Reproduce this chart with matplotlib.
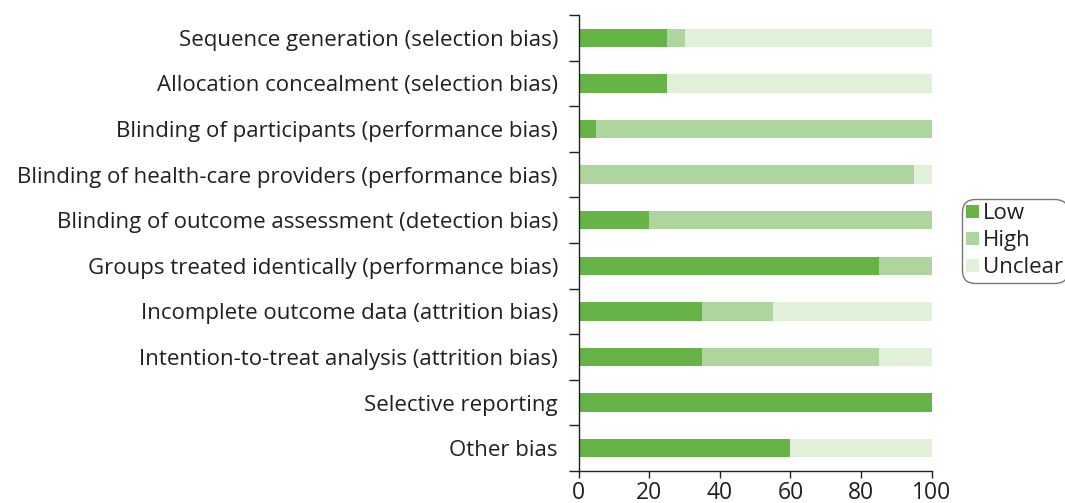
import matplotlib
matplotlib.use("Agg")
import matplotlib.pyplot as plt
import numpy as np

categories = [
    "Sequence generation (selection bias)",
    "Allocation concealment (selection bias)",
    "Blinding of participants (performance bias)",
    "Blinding of health-care providers (performance bias)",
    "Blinding of outcome assessment (detection bias)",
    "Groups treated identically (performance bias)",
    "Incomplete outcome data (attrition bias)",
    "Intention-to-treat analysis (attrition bias)",
    "Selective reporting",
    "Other bias",
]
low = [25, 25, 5, 0, 20, 85, 35, 35, 100, 60]
high = [5, 0, 95, 95, 80, 15, 20, 50, 0, 0]
unclear = [70, 75, 0, 5, 0, 0, 45, 15, 0, 40]
series_names = ["Low", "High", "Unclear"]
colors = ["#66b447", "#aed59e", "#e0f0d9"]
xticks = [0, 20, 40, 60, 80, 100]

plt.rcParams['font.family'] = ['Open Sans', 'DejaVu Sans']
txt = "#231f20"

fig = plt.figure(figsize=(10.65, 5.03), dpi=100)
ax = fig.add_axes([0.5434, 0.0636, 0.8748 - 0.5434, 0.9702 - 0.0636])

y = np.arange(len(categories))
low_a = np.array(low, float)
high_a = np.array(high, float)
unc_a = np.array(unclear, float)
h = 0.4
ax.barh(y, low_a, height=h, color=colors[0], label=series_names[0])
ax.barh(y, high_a, left=low_a, height=h, color=colors[1], label=series_names[1])
ax.barh(y, unc_a, left=low_a + high_a, height=h, color=colors[2], label=series_names[2])

ax.set_ylim(len(categories) - 0.5, -0.5)
ax.set_xlim(0, 100)
ax.set_yticks(y)
ax.set_yticklabels(categories, fontsize=16, color=txt)
ax.set_yticks(np.arange(-0.5, len(categories), 1), minor=True)
ax.tick_params(axis='y', which='major', length=0, pad=15)
ax.tick_params(axis='y', which='minor', length=7, width=1, color=txt, direction='out')
ax.set_xticks(xticks)
ax.set_xticklabels([str(v) for v in xticks], fontsize=16.5, color=txt)
ax.tick_params(axis='x', which='major', length=5, width=1, color=txt, direction='out', pad=2)

for s in ['top', 'right']:
    ax.spines[s].set_visible(False)
for s in ['left', 'bottom']:
    ax.spines[s].set_color(txt)
    ax.spines[s].set_linewidth(1)

leg = fig.legend(loc='upper left', bbox_to_anchor=(962 / 1065, 1 - 199 / 503),
                 frameon=True, fancybox=True, fontsize=16, handlelength=0.55,
                 handleheight=0.55, handletextpad=0.2, labelspacing=0.27,
                 borderpad=0.2, borderaxespad=0, labelcolor=txt)
leg.get_frame().set_edgecolor("#555555")
leg.get_frame().set_linewidth(1)
leg.get_frame().set_boxstyle("round", pad=0, rounding_size=0.6)

fig.savefig("out.png", dpi=100)
